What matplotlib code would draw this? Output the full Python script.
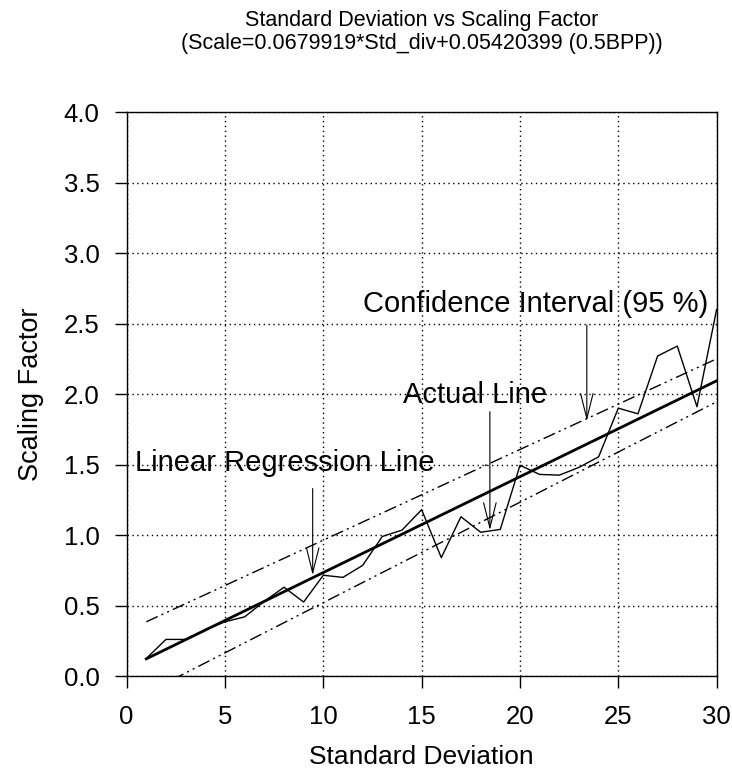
import numpy as np
import matplotlib.pyplot as plt

plt.rcParams['font.family'] = ['Liberation Sans', 'DejaVu Sans']

# valores
std_dev = [1, 2, 3, 4, 5, 6, 7, 8, 9, 10, 11, 12, 13, 14, 15,
           16, 17, 18, 19, 20, 21, 22, 23, 24, 25, 26, 27, 28, 29, 30]
scaling = [0.125, 0.26, 0.26, 0.33, 0.385, 0.42, 0.53, 0.63, 0.525, 0.715,
           0.70, 0.785, 0.99, 1.035, 1.18, 0.84, 1.13, 1.02, 1.04, 1.495,
           1.43, 1.425, 1.48, 1.555, 1.90, 1.86, 2.27, 2.34, 1.91, 2.60]

slope = 0.0679919
intercept = 0.05420399
fit_x = [1, 30]

ci_x = [1, 30]
ci_upper = [0.385, 2.25]
ci_lower = [-0.12, 1.945]

x_ticks = [0, 5, 10, 15, 20, 25, 30]
y_ticks = [0.0, 0.5, 1.0, 1.5, 2.0, 2.5, 3.0, 3.5, 4.0]

fig = plt.figure(figsize=(7.32, 7.78), dpi=100)
ax = fig.add_axes([0.173, 0.131, 0.806, 0.725])

ax.grid(True, color='k', linestyle=(0, (1, 2.5)), linewidth=1.0)
ax.set_axisbelow(True)

ax.plot(std_dev, scaling, color='k', linewidth=1.0)
fit_y = [slope * x + intercept for x in fit_x]
ax.plot(fit_x, fit_y, color='k', linewidth=2.0)
ax.plot(ci_x, ci_upper, color='k', linewidth=1.0,
        linestyle=(0, (9, 3, 1.5, 3, 1.5, 3)))
ax.plot(ci_x, ci_lower, color='k', linewidth=1.0,
        linestyle=(0, (9, 3, 1.5, 3, 1.5, 3)))

ax.set_xlim(0, 30)
ax.set_ylim(0, 4)
ax.set_xticks(x_ticks)
ax.set_yticks(y_ticks)
ax.set_xticklabels([str(t) for t in x_ticks])
ax.set_yticklabels(['%.1f' % t for t in y_ticks])
ax.tick_params(direction='out', length=8.5, width=1.0, labelsize=18.5)
ax.tick_params(axis='x', pad=12)
ax.tick_params(axis='y', pad=11)
for s in ax.spines.values():
  s.set_linewidth(1.0)

ax.set_xlabel(u"Standard Deviation", fontsize=19, labelpad=12)
ax.set_ylabel(u"Scaling Factor", fontsize=19.5, labelpad=14)

fig.text(0.576, 0.974, u"Standard Deviation vs Scaling Factor",
         ha='center', va='center', fontsize=15.5)
fig.text(0.576, 0.944, u"(Scale=0.0679919*Std_div+0.05420399 (0.5BPP))",
         ha='center', va='center', fontsize=15.5)

arrow = dict(arrowstyle='->,head_length=1.8,head_width=0.45',
             mutation_scale=10, color='k', linewidth=0.8,
             shrinkA=0, shrinkB=0)

ax.text(0.42, 1.51, u"Linear Regression Line", fontsize=21,
        ha='left', va='center')
ax.annotate('', xy=(9.46, 0.716), xytext=(9.46, 1.33), arrowprops=arrow)

ax.text(14.05, 1.99, u"Actual Line", fontsize=21, ha='left', va='center')
ax.annotate('', xy=(18.47, 1.035), xytext=(18.47, 1.875), arrowprops=arrow)

ax.text(29.56, 2.64, u"Confidence Interval (95 %)", fontsize=21,
        ha='right', va='center')
ax.annotate('', xy=(23.4, 1.81), xytext=(23.4, 2.49), arrowprops=arrow)

plt.savefig('out.png', dpi=100)
